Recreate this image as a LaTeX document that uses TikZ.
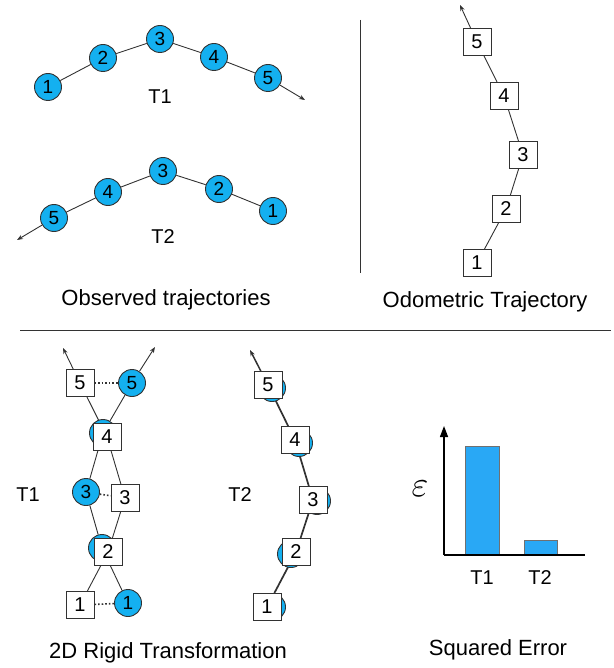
\documentclass[tikz,border=0pt]{standalone}
\usepackage{fontspec}
\setmainfont{Liberation Sans}
\usetikzlibrary{arrows.meta,backgrounds}
\definecolor{cblue}{RGB}{20,176,240}
\definecolor{bblue}{RGB}{41,168,245}
\definecolor{edge}{RGB}{50,50,50}
\tikzset{
  cnode/.style={circle,draw=edge,fill=cblue,line width=0.9pt,minimum size=27pt,inner sep=0pt,font=\fontsize{19}{19}\selectfont},
  snode/.style={rectangle,draw=edge,fill=white,line width=0.9pt,minimum width=28pt,minimum height=27pt,inner sep=0pt,font=\fontsize{20}{20}\selectfont},
  link/.style={draw=edge,line width=0.9pt},
  arr/.style={link,-{Stealth[length=6pt,width=4.5pt]}},
  dots/.style={draw=edge,line width=1.6pt,dotted},
  lbl/.style={font=\fontsize{20}{20}\selectfont},
  captxt/.style={font=\fontsize{22}{22}\selectfont},
  sepline/.style={draw=black!80,line width=1pt}
}
\begin{document}
\begin{tikzpicture}[x=1pt,y=-1pt]
\useasboundingbox (0,0) rectangle (613,668);
% ---------- Observed trajectories T1
\node[cnode] (a1) at (48,87) {1};
\node[cnode] (a2) at (103,58) {2};
\node[cnode] (a3) at (160,39) {3};
\node[cnode] (a4) at (214,57) {4};
\node[cnode] (a5) at (268,78) {5};
\coordinate (ae) at (305,100);
\node[lbl] (t1a) at (160,97) {T1};
% T2
\node[cnode] (b5) at (54,218) {5};
\node[cnode] (b4) at (108,192) {4};
\node[cnode] (b3) at (163,171) {3};
\node[cnode] (b2) at (219,189) {2};
\node[cnode] (b1) at (273,211) {1};
\coordinate (be) at (17,240);
\node[lbl] (t2a) at (163,237) {T2};
\node[captxt] (obs) at (166,300) {Observed trajectories};
% separators
\coordinate (v1) at (360,20);
\coordinate (v2) at (360,273);
\draw[sepline] (v1) -- (v2);
\coordinate (h1) at (20,330);
\coordinate (h2) at (611,330);
\draw[sepline] (h1) -- (h2);
% ---------- Odometric
\node[snode] (o5) at (477,42) {5};
\node[snode] (o4) at (504,96) {4};
\node[snode] (o3) at (523,155) {3};
\node[snode] (o2) at (506,209) {2};
\node[snode] (o1) at (477,263) {1};
\coordinate (oe) at (460,5);
\node[captxt] (odo) at (485,302) {Odometric Trajectory};
% ---------- 2D rigid T1
\node[cnode] (p4) at (103,433) {};
\node[cnode] (p2) at (102,548) {};
\node[cnode] (p1) at (128,603) {1};
\node[cnode] (p3) at (86,492) {3};
\node[cnode] (p5) at (132,383) {5};
\node[snode] (q1) at (80,605) {1};
\node[snode] (q2) at (108,552) {2};
\node[snode] (q3) at (125,498) {3};
\node[snode] (q4) at (107,437) {4};
\node[snode] (q5) at (80,383) {5};
\coordinate (qe) at (63,348);
\coordinate (pe) at (155,347);
\node[lbl] (t1b) at (28,495) {T1};
\node[captxt] (rig) at (168,653) {2D Rigid Transformation};
% ---------- 2D rigid T2
\node[cnode] (r5) at (272,388) {};
\node[cnode] (r4) at (299,443) {};
\node[cnode] (r3) at (317,501) {};
\node[cnode] (r2) at (291,554) {};
\node[cnode] (r1) at (272,607) {};
\node[snode] (s5) at (268,385) {5};
\node[snode] (s4) at (295,440) {4};
\node[snode] (s3) at (313,500) {3};
\node[snode] (s2) at (296,552) {2};
\node[snode] (s1) at (267,607) {1};
\coordinate (se) at (250,350);
\node[lbl] (t2b) at (240,495) {T2};
% ---------- edges on background
\begin{scope}[on background layer]
\draw[link] (a1) -- (a2) -- (a3) -- (a4) -- (a5);
\draw[arr] (a5) -- (ae);
\draw[link] (b1) -- (b2) -- (b3) -- (b4) -- (b5);
\draw[arr] (b5) -- (be);
\draw[link] (o1) -- (o2) -- (o3) -- (o4) -- (o5);
\draw[arr] (o5) -- (oe);
\draw[link] (q1) -- (q2) -- (q3) -- (q4) -- (q5);
\draw[arr] (q5) -- (qe);
\draw[link] (p1) -- (p2) -- (p3) -- (p4) -- (p5);
\draw[arr] (p5) -- (pe);
\draw[link,line width=1.7pt] (s1) -- (s2) -- (s3) -- (s4) -- (s5);
\draw[arr,line width=1.5pt] (s5) -- (se);
\end{scope}
\draw[dots] (q5) -- (p5);
\draw[dots] (p3) -- (q3);
\draw[dots] (q1) -- (p1);
% ---------- bar chart
\coordinate (org) at (444,555);
\coordinate (ytop) at (444,426);
\coordinate (xend) at (585,555);
\node[draw=edge!70,fill=bblue,line width=0.8pt,minimum width=34pt,minimum height=108pt,inner sep=0pt,anchor=south west] (bar1) at (465,555) {};
\node[draw=edge!70,fill=bblue,line width=0.8pt,minimum width=33pt,minimum height=14pt,inner sep=0pt,anchor=south west] (bar2) at (524,555) {};
\draw[black,line width=1.3pt,-{Triangle[length=11pt,width=8pt]}] (org) -- (ytop);
\draw[black,line width=1.3pt] (org) -- (xend);
\node (eps) at (420,489) {\scalebox{3.6}{$\varepsilon$}};
\node[lbl] (t1c) at (482,578) {T1};
\node[lbl] (t2c) at (540,578) {T2};
\node[captxt] (sq) at (498,650) {Squared Error};
\end{tikzpicture}
\end{document}
